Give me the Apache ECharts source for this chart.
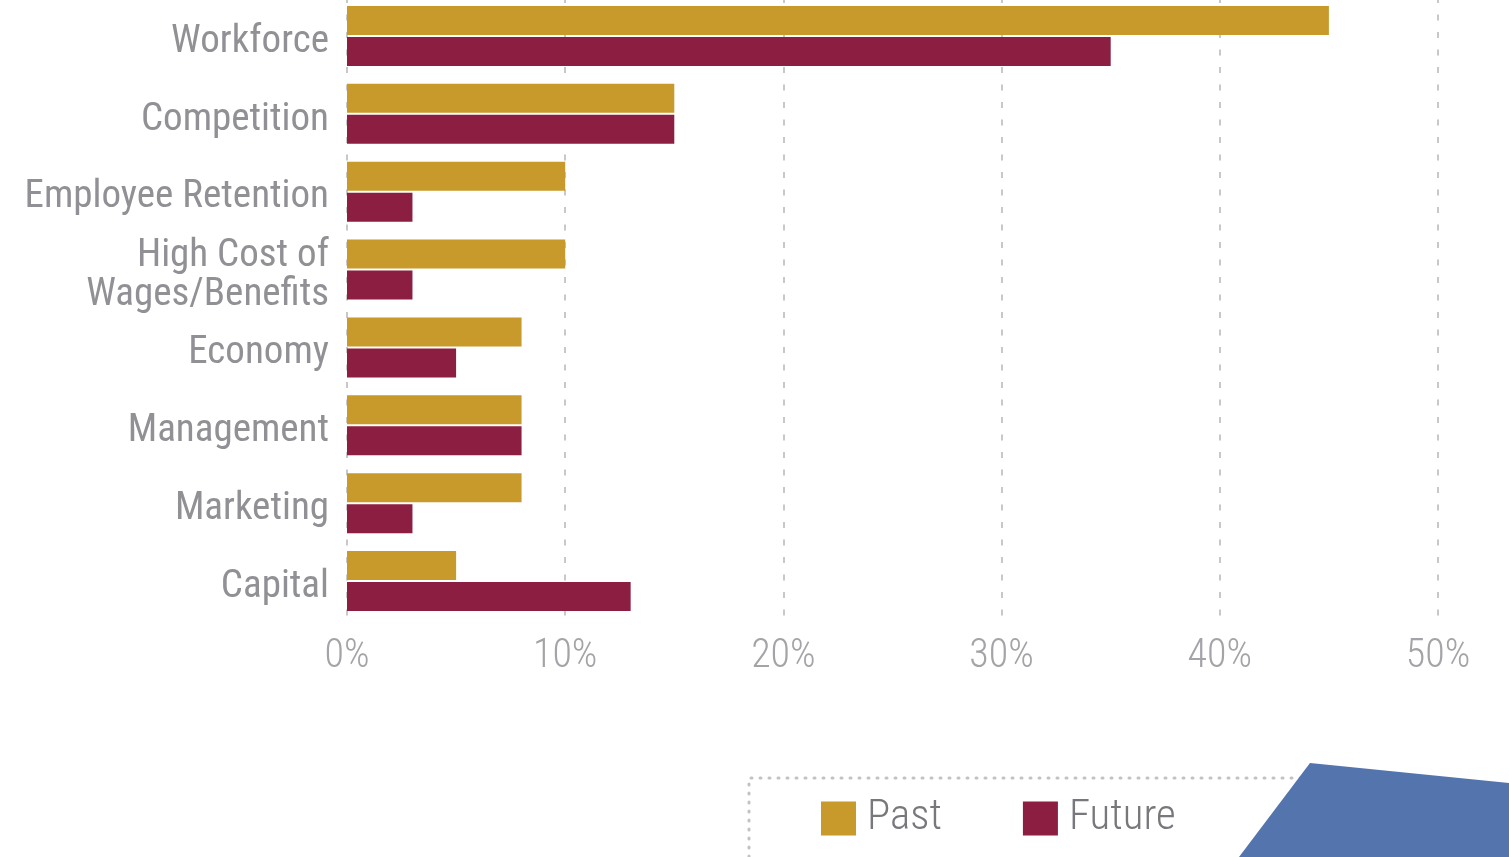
<!DOCTYPE html>
<html>
<head>
<meta charset="utf-8">
<script src="https://cdn.jsdelivr.net/npm/echarts@6/dist/echarts.min.js"></script>
<style>
  html, body { margin: 0; padding: 0; background: #ffffff; overflow: hidden; }
  /* the plot runs a few pixels past the top edge of the page */
  #chart { position: absolute; left: 0; top: -3px; width: 1509px; height: 860px; }
</style>
</head>
<body>
<div id="chart"></div>
<script>
// Business challenges: share of responses, past vs. expected future
const categories = [
  'Workforce',
  'Competition',
  'Employee Retention',
  'High Cost of\nWages/Benefits',
  'Economy',
  'Management',
  'Marketing',
  'Capital'
];
const pastValues = [45, 15, 10, 10, 8, 8, 8, 5];
const futureValues = [35, 15, 3, 3, 5, 8, 3, 13];
const tickValues = [0, 10, 20, 30, 40, 50];

const FONT = "'Roboto Condensed', 'Liberation Sans Narrow', 'DejaVu Sans Condensed', Roboto, sans-serif";
const PAST_COLOR = '#c79a2b';
const FUTURE_COLOR = '#8c1f41';
const LABEL_COLOR = '#909095';

const chart = echarts.init(document.getElementById('chart'), null, { renderer: 'canvas' });

// A thin spacer line above each category name nudges the text slightly below the band centre.
function categoryLabel(name) {
  return '{s| }\n' + name.split('\n').map(line => '{t|' + line + '}').join('\n');
}

chart.setOption({
  animation: false,
  backgroundColor: '#ffffff',
  grid: { left: 347, right: 71, top: 0, bottom: 237, containLabel: false },
  xAxis: {
    type: 'value',
    min: tickValues[0],
    max: tickValues[tickValues.length - 1],
    interval: 10,
    axisLine: { show: false },
    axisTick: { show: false },
    axisLabel: {
      formatter: v => v + '%',
      color: '#a3a3a8',
      fontFamily: FONT,
      fontWeight: 300,
      fontSize: 40,
      margin: 17
    },
    splitLine: {
      show: true,
      lineStyle: { color: '#c8c8c8', width: 2, type: [6, 11.5] }
    }
  },
  yAxis: {
    type: 'category',
    data: categories,
    inverse: true,
    axisLine: { show: false },
    axisTick: { show: false },
    axisLabel: {
      formatter: categoryLabel,
      margin: 18,
      align: 'right',
      rich: {
        s: { fontSize: 1, lineHeight: 12, align: 'right' },
        t: {
          color: LABEL_COLOR,
          fontFamily: FONT,
          fontSize: 39,
          lineHeight: 39,
          align: 'right'
        }
      }
    }
  },
  legend: {
    show: true,
    left: 816,
    top: 795,
    itemWidth: 35,
    itemHeight: 34,
    itemGap: 81,
    icon: 'rect',
    textStyle: {
      color: '#77777c',
      fontFamily: FONT,
      fontWeight: 300,
      fontSize: 43,
      padding: [4, 0, 0, 6]
    },
    data: ['Past', 'Future']
  },
  series: [
    {
      name: 'Past',
      type: 'bar',
      data: pastValues,
      barWidth: 29,
      barGap: '7%',
      itemStyle: { color: PAST_COLOR }
    },
    {
      name: 'Future',
      type: 'bar',
      data: futureValues,
      barWidth: 29,
      barGap: '7%',
      itemStyle: { color: FUTURE_COLOR }
    }
  ],
  graphic: [
    {
      type: 'polyline',
      shape: { points: [[749, 860], [749, 781], [1310, 781]] },
      style: { stroke: '#c2c2c2', lineWidth: 3, lineDash: [1, 8], lineCap: 'round', fill: null },
      z: 1
    },
    {
      type: 'polygon',
      shape: { points: [[1310, 766], [1509, 786], [1509, 860], [1239, 860]] },
      style: { fill: '#5474ad' },
      z: 2
    }
  ]
});
</script>
</body>
</html>
